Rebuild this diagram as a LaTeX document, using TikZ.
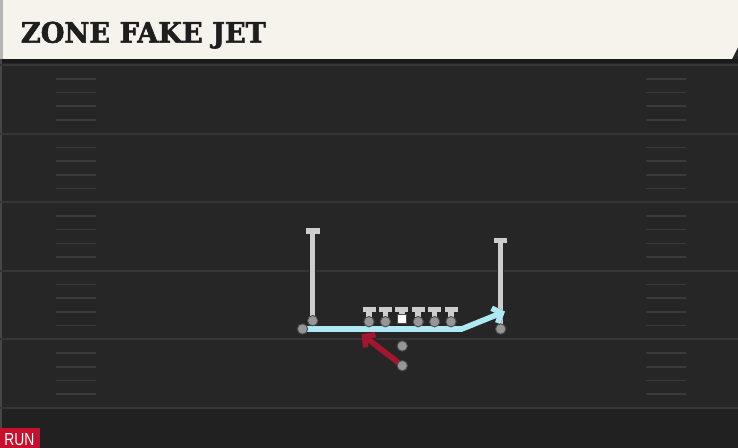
\documentclass[tikz,border=0pt]{standalone}
\usepackage{fontspec}
\setmainfont{DejaVu Serif}
\newfontfamily\titlefont[FakeBold=2]{DejaVu Serif Bold}
\newfontfamily\runfont{Liberation Sans}
\usetikzlibrary{arrows.meta}
\definecolor{field}{HTML}{262626}
\definecolor{fieldlow}{HTML}{212121}
\definecolor{band}{HTML}{1A1A1A}
\definecolor{yard}{HTML}{363636}
\definecolor{hashc}{HTML}{3A3A3A}
\definecolor{cream}{HTML}{F5F3EC}
\definecolor{edgegrey}{HTML}{B5B5B5}
\definecolor{fieldedge}{HTML}{464646}
\definecolor{runred}{HTML}{C8102E}
\definecolor{titleink}{HTML}{1E1E1E}
\definecolor{barfill}{HTML}{CDCDCD}
\definecolor{dotfill}{HTML}{969696}
\definecolor{jetblue}{HTML}{AEE8F2}
\definecolor{rbred}{HTML}{A3162F}
\pgfdeclarelayer{bg}
\pgfdeclarelayer{mid}
\pgfsetlayers{bg,mid,main}
\tikzset{
  yardline/.style={draw=yard, line width=1.6pt},
  hashmark/.style={draw=hashc, line width=1.2pt},
  barout/.style={draw=black!85, line width=5.4pt, line cap=butt},
  barin/.style={draw=barfill, line width=4.1pt, line cap=butt},
  dot/.style={circle, fill=dotfill, draw=black!70, line width=0.7pt, minimum size=7.8pt, inner sep=0pt},
  ctr/.style={rectangle, fill=white, draw=black!70, line width=0.6pt, minimum size=6.6pt, inner sep=0pt},
  jetroute/.style={draw=jetblue, line width=4.2pt, line join=miter,
    preaction={draw=black!85, line width=5.4pt},
    -{Straight Barb[length=5.5pt,width=12pt]}},
  rbroute/.style={draw=rbred, line width=4.2pt,
    preaction={draw=black!85, line width=5.4pt},
    -{Straight Barb[length=5.5pt,width=12pt]}},
}
\newcommand\playerbar[3]{%
  \draw[barout] (#1) -- (#2.center) (#1) ++(-#3,0) -- ++(2*#3,0);
  \draw[barin] (#1) -- (#2.center) (#1) ++(-#3,0) -- ++(2*#3,0);}
\begin{document}
\begin{tikzpicture}[x=0.75pt,y=-0.75pt]
\useasboundingbox (0,0) rectangle (738,448);
\begin{pgfonlayer}{bg}
% field
\fill[field] (0,0) rectangle (738,448);
\fill[fieldlow] (0,408) rectangle (738,448);
\fill[band] (0,59) rectangle (738,63);
\fill[fieldedge] (0,59) rectangle (2,448);
\foreach \k in {0,...,5}{
  \draw[yardline] (0,{65+68.6*\k}) -- (738,{65+68.6*\k});}
\foreach \k in {0,...,4}{
  \foreach \j in {1,...,4}{
    \draw[hashmark] (56,{65+68.6*\k+13.72*\j}) -- (96,{65+68.6*\k+13.72*\j});
    \draw[hashmark] (646,{65+68.6*\k+13.72*\j}) -- (686,{65+68.6*\k+13.72*\j});}}
% title bar
\fill[cream] (0,0) -- (738,0) -- (738,47) -- (732,59) -- (0,59) -- cycle;
\fill[edgegrey] (0,0) rectangle (3,59);
% run tag
\fill[runred] (0,428) rectangle (40,448);
\end{pgfonlayer}
\node[anchor=base west, inner sep=0pt, text=titleink] (title) at (20.7,42.7)
  {\resizebox{183.75pt}{15.75pt}{\titlefont ZONE FAKE JET}};
\node[anchor=base west, inner sep=0pt, text=white] (run) at (4,445.3)
  {\resizebox{22.5pt}{9pt}{\runfont RUN}};
% player positions
\coordinate (lwrT) at (312.7,231);
\coordinate (rwrT) at (500.7,240.7);
\coordinate (ltT) at (369,309.3);
\coordinate (lgT) at (385.4,309.3);
\coordinate (cT) at (401.8,309.3);
\coordinate (rgT) at (418.2,309.3);
\coordinate (rtT) at (434.6,309.3);
\coordinate (teT) at (451,309.3);
\coordinate (jetbend) at (461.7,329);
\coordinate (jettip) at (505,311.5);
\coordinate (rbtip) at (361.7,334.3);
\node[dot] (lwr) at (312.7,320.7) {};
\node[dot] (rwr) at (500.7,329) {};
\node[dot] (lt) at (369,321.7) {};
\node[dot] (lg) at (385.4,321.7) {};
\node[ctr] (c) at (401.8,319) {};
\node[dot] (rg) at (418.2,321.7) {};
\node[dot] (rt) at (434.6,321.7) {};
\node[dot] (te) at (451,321.7) {};
\node[dot] (qb) at (402.3,346) {};
\node[dot] (rb) at (402.3,365.7) {};
\node[dot] (jet) at (302.5,329) {};
\begin{pgfonlayer}{mid}
\playerbar{lwrT}{lwr}{7}
\playerbar{rwrT}{rwr}{6.5}
\playerbar{ltT}{lt}{6.5}
\playerbar{lgT}{lg}{6.5}
\playerbar{cT}{c}{6.5}
\playerbar{rgT}{rg}{6.5}
\playerbar{rtT}{rt}{6.5}
\playerbar{teT}{te}{6.5}
\draw[jetroute] (jet.center) -- (jetbend) -- (jettip);
\draw[rbroute] (rb.center) -- (rbtip);
\end{pgfonlayer}
\end{tikzpicture}
\end{document}
